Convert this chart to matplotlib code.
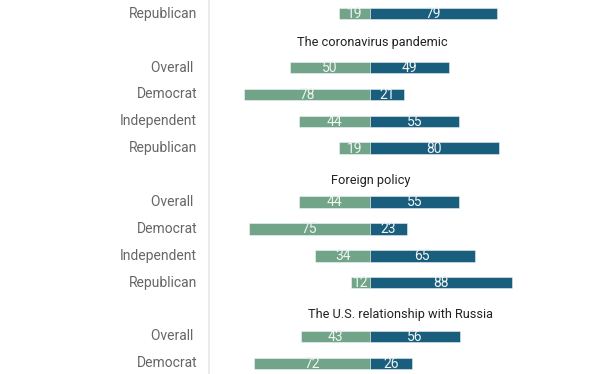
import matplotlib
matplotlib.use("Agg")
import matplotlib.pyplot as plt

plt.rcParams['font.family'] = ['Roboto', 'DejaVu Sans']

# data (share saying: left = green, right = blue)
groups = ["", "The coronavirus pandemic", "Foreign policy", "The U.S. relationship with Russia"]
prev_labels = ["Republican"]
prev_left = [19]
prev_right = [79]

covid_labels = ["Overall ", "Democrat", "Independent", "Republican"]
covid_left = [50, 78, 44, 19]
covid_right = [49, 21, 55, 80]

foreign_labels = ["Overall ", "Democrat", "Independent", "Republican"]
foreign_left = [44, 75, 34, 12]
foreign_right = [55, 23, 65, 88]

russia_labels = ["Overall ", "Democrat"]
russia_left = [43, 72]
russia_right = [56, 26]

green = "#71a488"
blue = "#1a5e7e"

W, H = 612, 374
zero_px = 370
px_per_unit = 1.61
row_top = 13.7
row_pitch = 26.9
bar_h = 11.5

fig = plt.figure(figsize=(W / 100, H / 100), dpi=100)
ax = fig.add_axes([0, 0, 1, 1])
ax.set_xlim(-zero_px / px_per_unit, (W - zero_px) / px_per_unit)
ax.set_ylim(H, 0)
ax.axis("off")

def px(x):
    return (x - zero_px) / px_per_unit

ax.axvline(px(209), color="#e8e8e8", lw=1.2)

blocks = [
    (groups[0], prev_labels, prev_left, prev_right),
    (groups[1], covid_labels, covid_left, covid_right),
    (groups[2], foreign_labels, foreign_left, foreign_right),
    (groups[3], russia_labels, russia_left, russia_right),
]
title_x = [None, 372, 371, 400]
title_dy = [0, 2, 5, 5]

slot = 0
for gi, (title, labels, left, right) in enumerate(blocks):
    if title:
        y = row_top + slot * row_pitch + title_dy[gi]
        ax.text(px(title_x[gi]), y, title, ha="center", va="center",
                fontsize=9.2, color="#222222")
        slot += 1
    for lab, l, r in zip(labels, left, right):
        y = row_top + slot * row_pitch
        ax.barh(y, -l, height=bar_h, left=0, color=green,
                edgecolor=(1, 1, 1, 0.45), linewidth=0.7)
        ax.barh(y, r, height=bar_h, left=0, color=blue,
                edgecolor=(1, 1, 1, 0.45), linewidth=0.7)
        ax.text(-l / 2, y + 0.5, str(l), ha="center", va="center",
                fontsize=10, color="#f0f4f2")
        ax.text(r / 2, y + 0.5, str(r), ha="center", va="center",
                fontsize=10, color="#f0f4f2")
        ax.text(px(197), y, lab, ha="right", va="center",
                fontsize=10, color="#666666")
        slot += 1

fig.savefig("out.png", dpi=100, facecolor="white")
